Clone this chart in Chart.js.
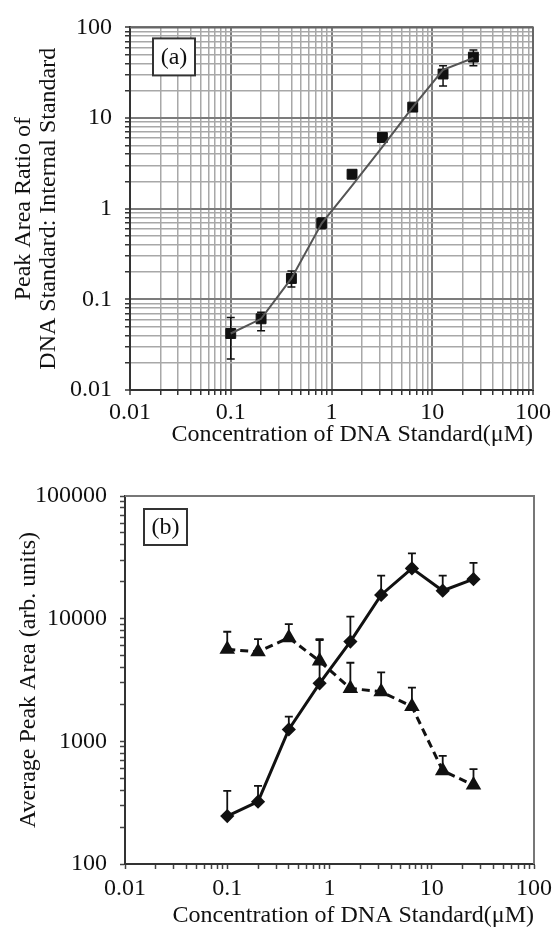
<!DOCTYPE html>
<html>
<head>
<meta charset="utf-8">
<script src="https://cdn.jsdelivr.net/npm/chart.js@4.4.1/dist/chart.umd.min.js"></script>
<style>
  html, body { margin: 0; padding: 0; background: #fff; }
  #wrapA { position: absolute; left: 0; top: 0; width: 559px; height: 460px; }
  #wrapB { position: absolute; left: 0; top: 460px; width: 559px; height: 468px; }
</style>
</head>
<body>
<div id="wrapA"><canvas id="chartA" width="559" height="460"></canvas></div>
<div id="wrapB"><canvas id="chartB" width="559" height="468"></canvas></div>
<script>
// concentrations of the DNA standard (uM)
var concentration = [0.1, 0.2, 0.4, 0.8, 1.6, 3.2, 6.4, 12.8, 25.6];

// (a) peak area ratio, DNA standard : internal standard
var ratioMean = [0.042, 0.061, 0.17, 0.69, 2.4, 6.1, 13.2, 30.6, 47];
var ratioLow = [0.022, 0.045, 0.137, 0.6, 2.25, 5.8, 12.5, 22.5, 37.8];
var ratioHigh = [0.063, 0.072, 0.205, 0.79, 2.55, 6.4, 14, 37.8, 56.5];
var ratioFit = [0.042, 0.061, 0.17, 0.69, 1.8, 4.8, 13.2, 34, 46];

// (b) average peak area (arb. units)
var dnaArea = [246, 322, 1250, 2970, 6500, 15600, 25700, 16900, 21000];
var dnaAreaHigh = [394, 434, 1590, 6700, 10400, 22400, 34000, 22400, 28500];
var isArea = [5620, 5370, 6990, 4510, 2700, 2540, 1920, 576, 440];
var isAreaHigh = [7820, 6820, 9040, 6820, 4370, 3650, 2740, 760, 594];

// tick labels
var xTickLabels = ["0.01", "0.1", "1", "10", "100"];
var yTickLabelsA = ["0.01", "0.1", "1", "10", "100"];
var yTickLabelsB = ["100", "1000", "10000", "100000"];

var xTitle = "Concentration of DNA Standard(\u03bcM)";
var yTitleA = ["Peak Area Ratio of", "DNA Standard: Internal Standard"];
var yTitleB = "Average Peak Area (arb. units)";

Chart.defaults.font.family = "'Liberation Serif', 'Times New Roman', serif";
Chart.defaults.font.size = 24;
Chart.defaults.color = "#111";

function points(xs, ys) {
  return xs.map(function (x, i) { return { x: x, y: ys[i] }; });
}

// 1..9 x 10^n ticks for every decade
function decadeTicks(scale) {
  var ticks = [];
  var e0 = Math.round(Math.log10(scale.min));
  var e1 = Math.round(Math.log10(scale.max));
  for (var e = e0; e < e1; e++) {
    for (var m = 1; m < 10; m++) {
      ticks.push({ value: Number((m * Math.pow(10, e)).toPrecision(6)), major: m === 1 });
    }
  }
  ticks.push({ value: scale.max, major: true });
  scale.ticks = ticks;
}

function decadeLabel(labels, min) {
  return function (value) {
    var l = Math.log10(value);
    if (Math.abs(l - Math.round(l)) > 1e-6) return "";
    return labels[Math.round(l) - Math.round(Math.log10(min))];
  };
}

var errorBars = {
  id: "errorBars",
  beforeDatasetsDraw: function (chart) {
    var ctx = chart.ctx, x = chart.scales.x, y = chart.scales.y;
    chart.data.datasets.forEach(function (ds) {
      if (!ds.errHigh) return;
      ctx.save();
      ctx.strokeStyle = "#111";
      ctx.lineWidth = ds.errWidth || 1.5;
      ds.data.forEach(function (p, j) {
        var px = x.getPixelForValue(p.x);
        var top = y.getPixelForValue(ds.errHigh[j]);
        var bot = y.getPixelForValue(ds.errLow ? ds.errLow[j] : p.y);
        var c = ds.capHalf || 4;
        ctx.beginPath();
        ctx.moveTo(px, top); ctx.lineTo(px, bot);
        ctx.moveTo(px - c, top); ctx.lineTo(px + c, top);
        if (ds.errLow) { ctx.moveTo(px - c, bot); ctx.lineTo(px + c, bot); }
        ctx.stroke();
      });
      ctx.restore();
    });
  }
};

var frameAndTag = {
  id: "frameAndTag",
  afterDraw: function (chart, args, opts) {
    var ctx = chart.ctx, a = chart.chartArea;
    ctx.save();
    ctx.strokeStyle = opts.frameColor;
    ctx.lineWidth = 2;
    ctx.beginPath();
    ctx.moveTo(a.left, a.top); ctx.lineTo(a.right, a.top); ctx.lineTo(a.right, a.bottom);
    ctx.stroke();
    var bx = a.left + opts.dx, by = a.top + opts.dy;
    ctx.fillStyle = "#fff";
    ctx.fillRect(bx, by, opts.w, opts.h);
    ctx.strokeStyle = "#333";
    ctx.lineWidth = 2;
    ctx.strokeRect(bx, by, opts.w, opts.h);
    ctx.fillStyle = "#111";
    ctx.font = "24px 'Liberation Serif', serif";
    ctx.textAlign = "center";
    ctx.textBaseline = "middle";
    ctx.fillText(opts.text, bx + opts.w / 2, by + opts.h / 2 + 1);
    ctx.restore();
  }
};

function gridColor(c) {
  return c.tick && c.tick.major ? "#7c7c7c" : "#a8a8a8";
}
function gridWidth(c) {
  return c.tick && c.tick.major ? 2 : 1.5;
}

// ---------- (a) ----------
new Chart(document.getElementById("chartA").getContext("2d"), {
  type: "line",
  data: {
    datasets: [
      {
        data: points(concentration, ratioFit),
        borderColor: "#555",
        borderWidth: 2,
        pointRadius: 0,
        tension: 0
      },
      {
        data: points(concentration, ratioMean),
        showLine: false,
        pointStyle: "rect",
        pointRadius: 7,
        pointBackgroundColor: "#111",
        pointBorderColor: "#111",
        errLow: ratioLow,
        errHigh: ratioHigh,
        capHalf: 4,
        errWidth: 1.5
      }
    ]
  },
  options: {
    responsive: false,
    animation: false,
    layout: { padding: { left: 0, top: 24, right: 26, bottom: 0 } },
    plugins: {
      legend: { display: false },
      tooltip: { enabled: false },
      frameAndTag: { frameColor: "#666", text: "(a)", dx: 23, dy: 11, w: 42, h: 37 }
    },
    scales: {
      x: {
        type: "logarithmic",
        min: 0.01,
        max: 100,
        afterBuildTicks: decadeTicks,
        afterFit: function (s) { s.height = 70; },
        ticks: { autoSkip: false, maxRotation: 0, padding: 3, callback: decadeLabel(xTickLabels, 0.01) },
        grid: { color: gridColor, lineWidth: gridWidth, tickLength: 5, tickColor: "#333", tickWidth: 1.5 },
        border: { color: "#333", width: 2 },
        title: { display: true, text: xTitle, align: "end", font: { size: 24, lineHeight: 1 }, padding: { top: 0, bottom: 13 } }
      },
      y: {
        type: "logarithmic",
        min: 0.01,
        max: 100,
        afterBuildTicks: decadeTicks,
        afterFit: function (s) { s.width = 130; },
        ticks: { autoSkip: false, padding: 13, callback: decadeLabel(yTickLabelsA, 0.01) },
        grid: { color: gridColor, lineWidth: gridWidth, tickLength: 5, tickColor: "#333", tickWidth: 1.5 },
        border: { color: "#333", width: 2 },
        title: { display: true, text: yTitleA, font: { size: 24, lineHeight: 1.05 }, padding: { top: 11, bottom: 0 } }
      }
    }
  },
  plugins: [errorBars, frameAndTag]
});

// ---------- (b) ----------
new Chart(document.getElementById("chartB").getContext("2d"), {
  type: "line",
  data: {
    datasets: [
      {
        data: points(concentration, dnaArea),
        borderColor: "#111",
        borderWidth: 3,
        tension: 0,
        pointStyle: "rectRot",
        pointRadius: 5,
        pointBackgroundColor: "#111",
        pointBorderColor: "#111",
        errHigh: dnaAreaHigh,
        capHalf: 4,
        errWidth: 1.8
      },
      {
        data: points(concentration, isArea),
        borderColor: "#111",
        borderWidth: 3,
        borderDash: [8, 5],
        tension: 0,
        pointStyle: "triangle",
        pointRadius: 6,
        pointBackgroundColor: "#111",
        pointBorderColor: "#111",
        errHigh: isAreaHigh,
        capHalf: 4,
        errWidth: 1.8
      }
    ]
  },
  options: {
    responsive: false,
    animation: false,
    layout: { padding: { left: 0, top: 36, right: 25, bottom: 0 } },
    plugins: {
      legend: { display: false },
      tooltip: { enabled: false },
      frameAndTag: { frameColor: "#777", text: "(b)", dx: 19, dy: 13, w: 43, h: 36 }
    },
    scales: {
      x: {
        type: "logarithmic",
        min: 0.01,
        max: 100,
        afterBuildTicks: decadeTicks,
        afterFit: function (s) { s.height = 64; },
        ticks: { autoSkip: false, maxRotation: 0, padding: 5, callback: decadeLabel(xTickLabels, 0.01) },
        grid: { drawOnChartArea: false, tickLength: 5, tickColor: "#444", tickWidth: 1.5 },
        border: { color: "#333", width: 2 },
        title: { display: true, text: xTitle, align: "end", font: { size: 24, lineHeight: 1 }, padding: { top: 0, bottom: 0 } }
      },
      y: {
        type: "logarithmic",
        min: 100,
        max: 100000,
        afterBuildTicks: decadeTicks,
        afterFit: function (s) { s.width = 125; },
        ticks: { autoSkip: false, padding: 13, callback: decadeLabel(yTickLabelsB, 100) },
        grid: { drawOnChartArea: false, tickLength: 5, tickColor: "#444", tickWidth: 1.5 },
        border: { color: "#333", width: 2 },
        title: { display: true, text: yTitleB, font: { size: 24, lineHeight: 1.2 }, padding: { top: 14, bottom: 0 } }
      }
    }
  },
  plugins: [errorBars, frameAndTag]
});
</script>
</body>
</html>
